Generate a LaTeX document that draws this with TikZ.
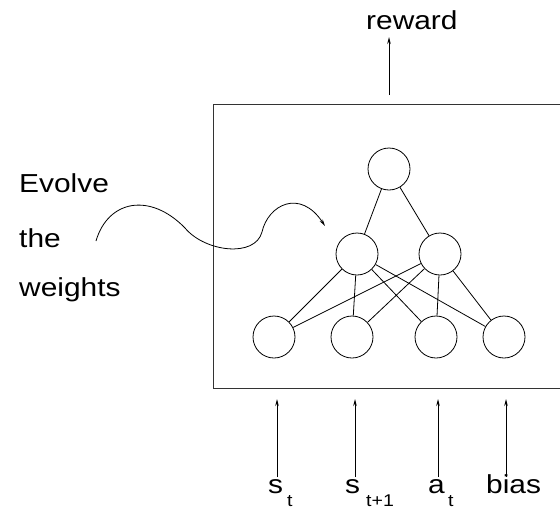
\documentclass[tikz,border=0pt]{standalone}
\usepackage{fontspec}
\setmainfont{Liberation Sans}[FakeStretch=1.15]
\usetikzlibrary{arrows.meta}
\begin{document}
\begin{tikzpicture}[x=1pt,y=-1pt,
  neuron/.style={circle,draw,line width=0.8pt,minimum size=42pt,inner sep=0pt},
  conn/.style={line width=0.8pt},
  sig/.style={line width=0.8pt,-{Stealth[length=7pt,width=3.5pt]}},
  lbl/.style={inner sep=0pt,anchor=base west,font=\fontsize{26}{30}\selectfont},
  sub/.style={inner sep=0pt,anchor=base west,font=\fontsize{17}{20}\selectfont}]
\useasboundingbox (0,0) rectangle (560,517);
% box
\draw[line width=1pt,black!80] (560,104) -- (213,104) -- (213,388) -- (560,388);
% neurons
\node[neuron] (o) at (389,169) {};
\node[neuron] (h1) at (357,254) {};
\node[neuron] (h2) at (440,254) {};
\node[neuron] (i1) at (274,337) {};
\node[neuron] (i2) at (352,337) {};
\node[neuron] (i3) at (436,337) {};
\node[neuron] (i4) at (504,337) {};
\foreach \h in {h1,h2}{\draw[conn] (o) -- (\h);}
\foreach \h in {h1,h2}{\foreach \i in {i1,i2,i3,i4}{\draw[conn] (\h) -- (\i);}}
% reward
\coordinate (rb) at (389,95);
\coordinate (rt) at (389,37);
\draw[sig] (rb) -- (rt);
\node[lbl] (rw) at (366,29) {reward};
% inputs
\foreach \x/\n in {277/a,355/b,438/c,506/d}{
  \coordinate (\n b) at (\x,477);
  \coordinate (\n t) at (\x,399);
  \draw[sig] (\n b) -- (\n t);}
\node[lbl] (s1) at (268,493) {s};
\node[sub] (s1t) at (287,506) {t};
\node[lbl] (s2) at (345,493) {s};
\node[sub] (s2t) at (366,506) {t+1};
\node[lbl] (a1) at (428,493) {a};
\node[sub] (a1t) at (448,506) {t};
\node[lbl] (bi) at (486,493) {bias};
% evolve text
\node[lbl] (ev) at (19,192) {Evolve};
\node[lbl] (th) at (19,247) {the};
\node[lbl] (we) at (19,296) {weights};
% wavy arrow
\coordinate (ws) at (96,241);
\coordinate (we2) at (325,226);
\draw[sig] (ws) .. controls (108,200) and (150,192) .. (185,228)
  .. controls (205,252) and (255,258) .. (262,232)
  .. controls (268,205) and (300,188) .. (we2);
\end{tikzpicture}
\end{document}
